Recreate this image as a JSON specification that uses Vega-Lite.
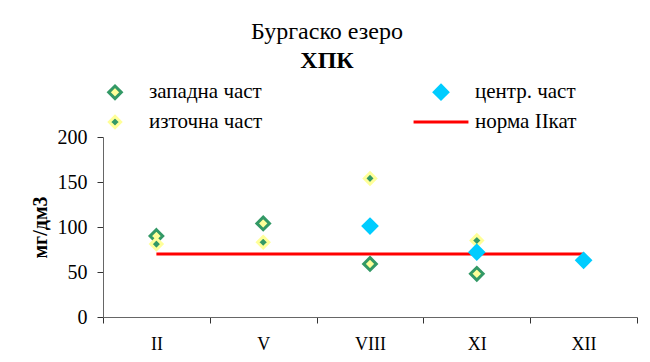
{
  "$schema": "https://vega.github.io/schema/vega-lite/v6.json",
  "width": 534,
  "height": 180,
  "autosize": {"type": "none"},
  "padding": {"left": 103, "top": 137, "right": 13, "bottom": 45},
  "background": "white",
  "title": {
    "text": "Бургаско езеро",
    "subtitle": "ХПК",
    "anchor": "middle",
    "frame": "group",
    "dx": -43,
    "dy": -4,
    "offset": 2,
    "subtitlePadding": 5
  },
  "config": {
    "view": {"stroke": null},
    "font": "Liberation Serif",
    "title": {
      "font": "Liberation Serif",
      "fontSize": 24,
      "fontWeight": "normal",
      "color": "black",
      "subtitleFont": "Liberation Serif",
      "subtitleFontSize": 24,
      "subtitleFontWeight": "bold",
      "subtitleColor": "black"
    },
    "axis": {
      "labelFont": "Liberation Serif",
      "labelColor": "black",
      "titleFont": "Liberation Serif",
      "titleColor": "black",
      "grid": false,
      "domainColor": "#666666",
      "tickColor": "#333333"
    },
    "legend": {
      "labelFont": "Liberation Serif",
      "labelFontSize": 21,
      "labelColor": "black",
      "labelOffset": 21,
      "symbolSize": 506,
      "symbolStrokeWidth": 3,
      "symbolOpacity": 1,
      "rowPadding": 4,
      "columnPadding": 144,
      "padding": 0
    }
  },
  "data": {
    "values": [
      {"month": "II", "series": "норма IIкат", "value": 70},
      {"month": "XII", "series": "норма IIкат", "value": 70},
      {"month": "II", "series": "западна част", "value": 90},
      {"month": "V", "series": "западна част", "value": 104},
      {"month": "VIII", "series": "западна част", "value": 59},
      {"month": "XI", "series": "западна част", "value": 48},
      {"month": "II", "series": "източна част", "value": 81},
      {"month": "V", "series": "източна част", "value": 83},
      {"month": "VIII", "series": "източна част", "value": 154},
      {"month": "XI", "series": "източна част", "value": 85},
      {"month": "VIII", "series": "центр. част", "value": 101},
      {"month": "XI", "series": "центр. част", "value": 72},
      {"month": "XII", "series": "центр. част", "value": 63}
    ]
  },
  "encoding": {
    "x": {
      "field": "month",
      "type": "nominal",
      "sort": ["II", "V", "VIII", "XI", "XII"],
      "scale": {"type": "band", "paddingInner": 0, "paddingOuter": 0, "domain": ["II", "V", "VIII", "XI", "XII"]},
      "axis": {
        "title": null,
        "labelAngle": 0,
        "tickBand": "extent",
        "labelFontSize": 18,
        "tickSize": 6,
        "labelPadding": 12
      }
    },
    "y": {
      "field": "value",
      "type": "quantitative",
      "scale": {"domain": [0, 200], "nice": false},
      "axis": {
        "title": "мг/дм3",
        "values": [0, 50, 100, 150, 200],
        "titleFontSize": 20,
        "titleFontWeight": "bold",
        "titlePadding": 7,
        "labelFontSize": 20,
        "labelPadding": 10,
        "tickSize": 6
      }
    }
  },
  "layer": [
    {
      "transform": [{"filter": "datum.series === 'норма IIкат'"}],
      "mark": {"type": "line", "strokeWidth": 3},
      "encoding": {
        "stroke": {
          "field": "series",
          "type": "nominal",
          "scale": {
            "domain": ["западна част", "източна част", "центр. част", "норма IIкат"],
            "range": ["#339966", "#FFFF99", "#00CCFF", "#FF0000"]
          },
          "legend": {"title": null, "orient": "none", "legendX": -1, "legendY": -58, "columns": 2}
        }
      }
    },
    {
      "transform": [{"filter": "datum.series !== 'норма IIкат'"}],
      "mark": {"type": "point", "filled": true, "size": 506, "strokeWidth": 3, "opacity": 1},
      "encoding": {
        "stroke": {
          "field": "series",
          "type": "nominal",
          "scale": {
            "domain": ["западна част", "източна част", "центр. част", "норма IIкат"],
            "range": ["#339966", "#FFFF99", "#00CCFF", "#FF0000"]
          },
          "legend": {"title": null, "orient": "none", "legendX": -1, "legendY": -58, "columns": 2}
        },
        "fill": {
          "field": "series",
          "type": "nominal",
          "scale": {
            "domain": ["западна част", "източна част", "центр. част", "норма IIкат"],
            "range": ["#FFFF99", "#339966", "#00CCFF", "transparent"]
          },
          "legend": {"title": null, "orient": "none", "legendX": -1, "legendY": -58, "columns": 2}
        },
        "shape": {
          "field": "series",
          "type": "nominal",
          "scale": {
            "domain": ["западна част", "източна част", "центр. част", "норма IIкат"],
            "range": [
              "M0,-0.56L0.56,0L0,0.56L-0.56,0Z",
              "M0,-0.5L0.5,0L0,0.5L-0.5,0Z",
              "M0,-0.6L0.6,0L0,0.6L-0.6,0Z",
              "M-2.44,0L2.44,0"
            ]
          },
          "legend": {"title": null, "orient": "none", "legendX": -1, "legendY": -58, "columns": 2}
        }
      }
    }
  ]
}
